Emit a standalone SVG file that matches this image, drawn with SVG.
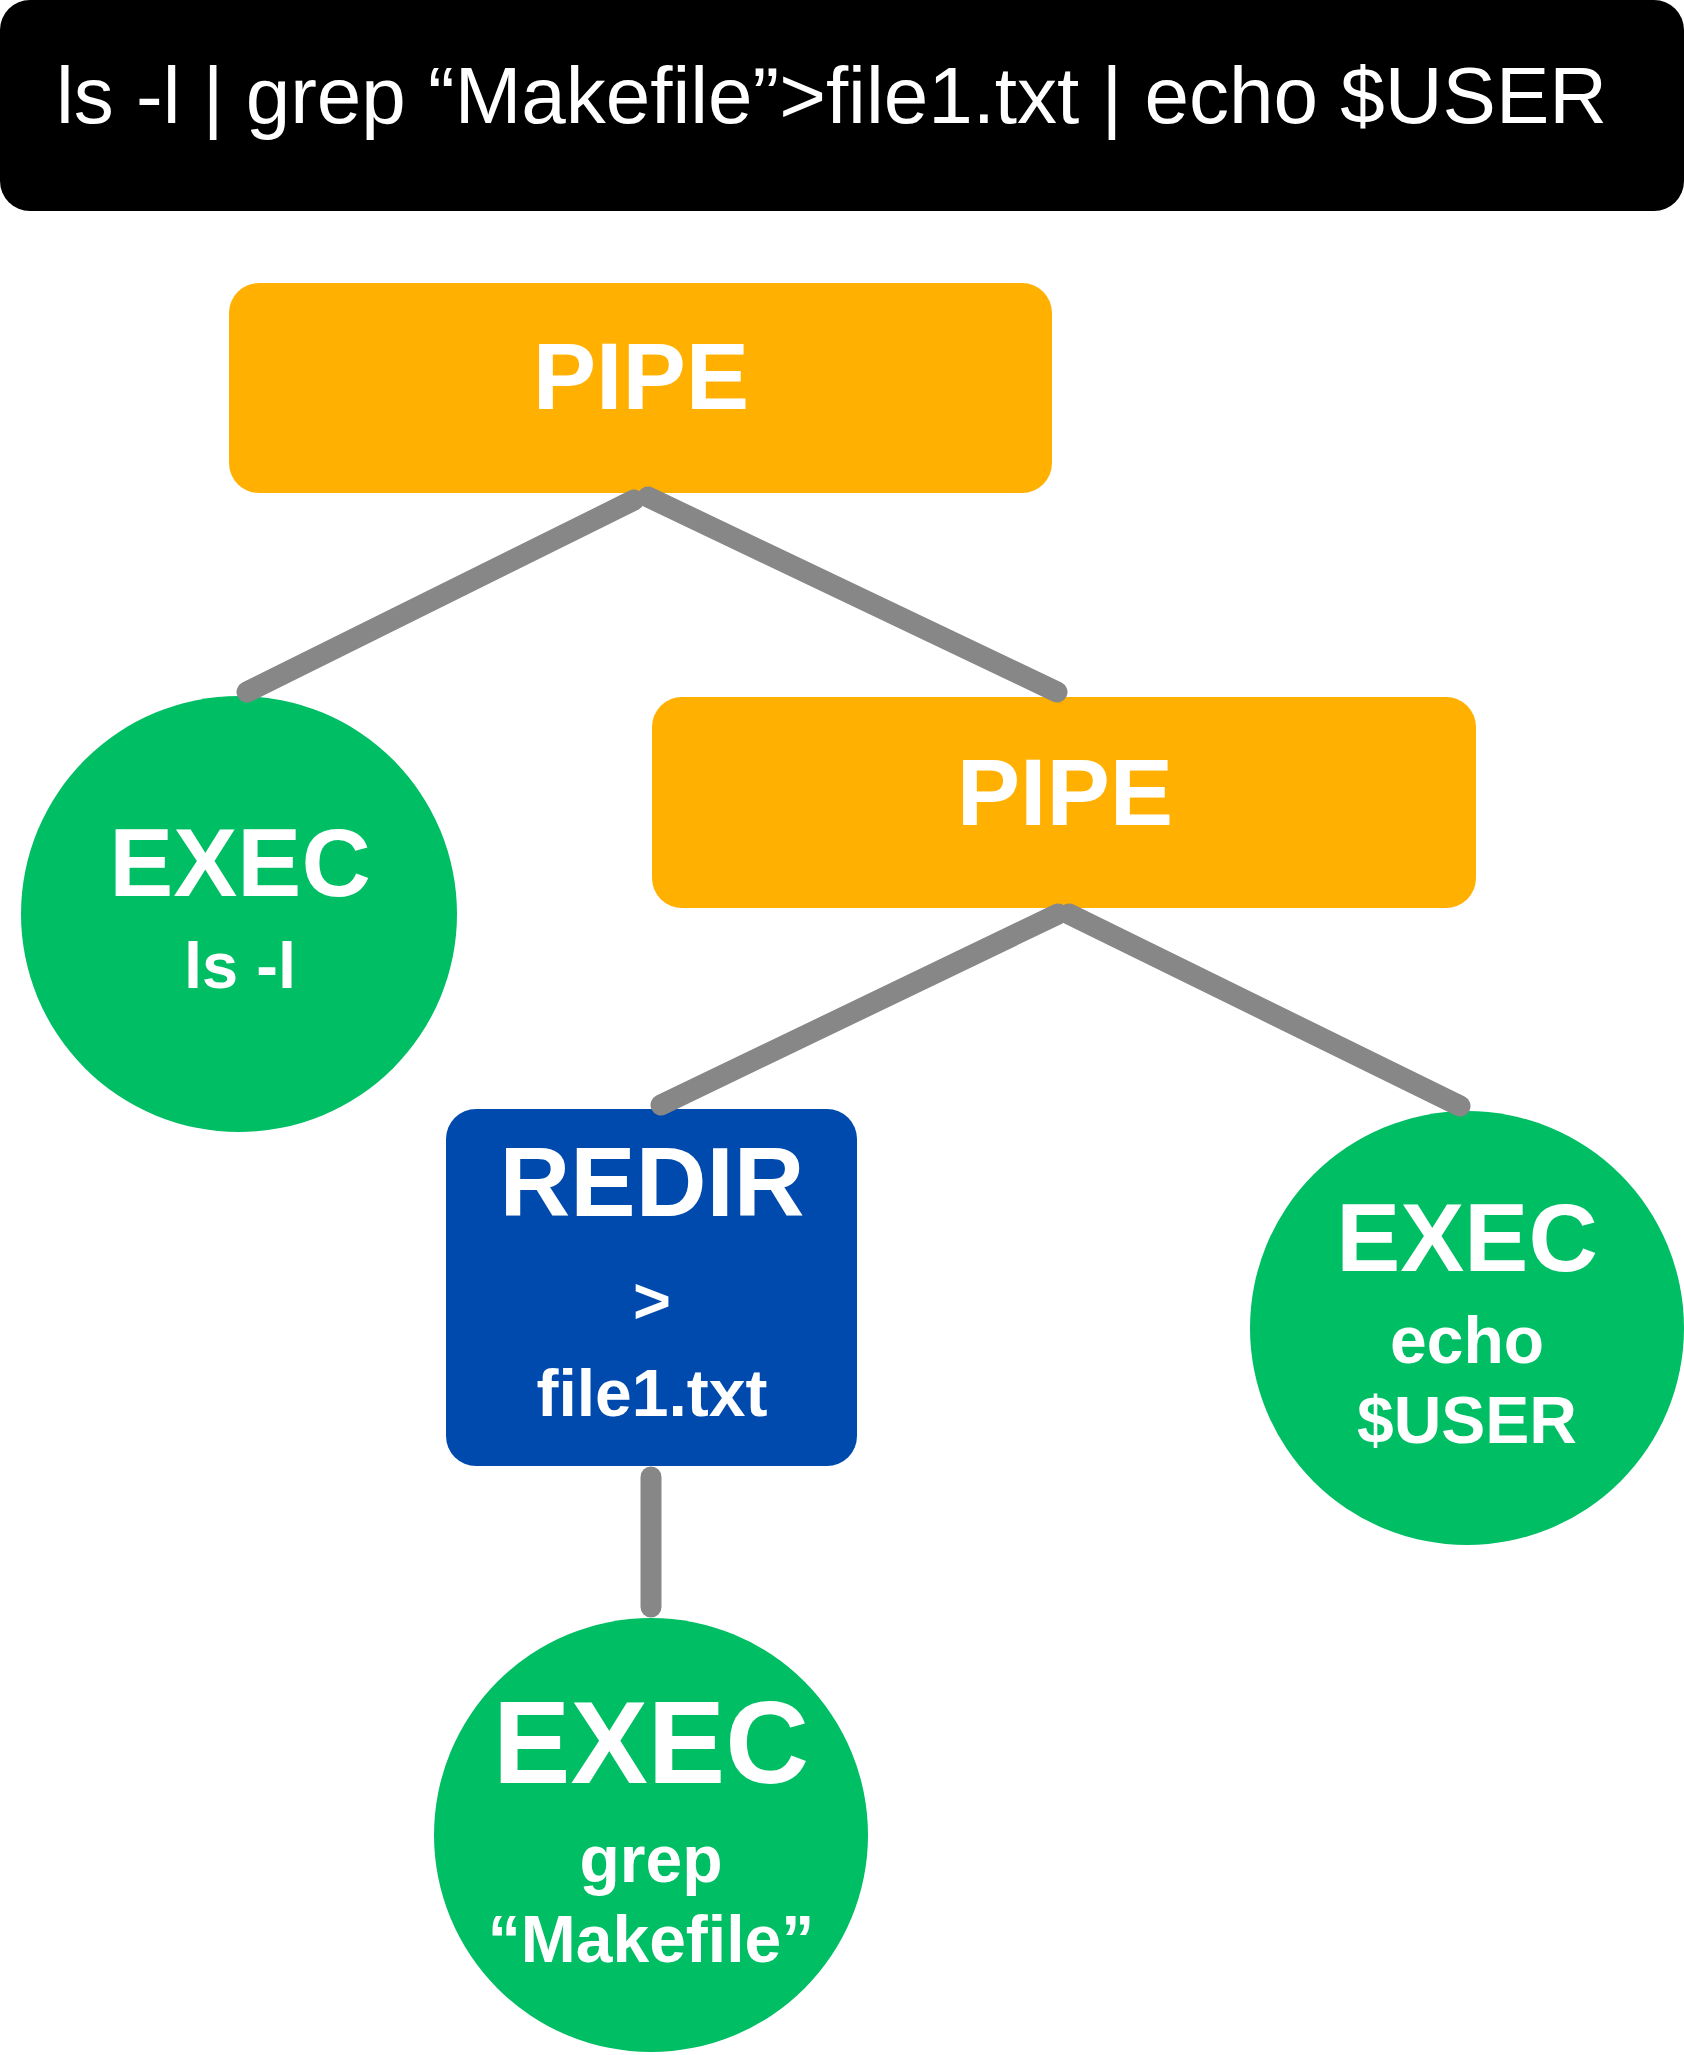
<svg xmlns="http://www.w3.org/2000/svg" width="1684" height="2055" viewBox="0 0 1684 2055">
<style>
.t{fill:#fff;font-family:"Liberation Sans",Arial,sans-serif;text-anchor:middle;font-weight:bold}
.pipe{fill:#FFB000}
.exec{fill:#00BE64}
.redir{fill:#004AAD}
.c{stroke:#878787;stroke-width:21;stroke-linecap:round;fill:none}
</style>
<rect width="1684" height="2055" fill="#fff"/>
<g id="title">
<rect x="0" y="0" width="1684" height="211" rx="30" fill="#000"/>
<text x="56" y="123" font-family="Liberation Sans, Arial, sans-serif" font-size="80" fill="#fff">ls -l | grep “Makefile”&gt;file1.txt | echo $USER</text>
</g>
<g id="pipe1">
<rect class="pipe" x="229" y="283" width="823" height="210" rx="30"/>
<text class="t" x="641" y="409" font-size="95">PIPE</text>
</g>
<g id="exec-ls">
<circle class="exec" cx="239" cy="914" r="218"/>
<text class="t" x="240" y="896" font-size="96">EXEC</text>
<text class="t" x="240" y="988" font-size="65">ls -l</text>
</g>
<g id="pipe2">
<rect class="pipe" x="652" y="697" width="824" height="211" rx="30"/>
<text class="t" x="1065" y="825" font-size="95">PIPE</text>
</g>
<g id="redir">
<rect class="redir" x="446" y="1109" width="411" height="357" rx="30"/>
<text class="t" x="652" y="1216" font-size="98">REDIR</text>
<text class="t" x="652" y="1323" font-size="65">&gt;</text>
<text class="t" x="652" y="1416" font-size="66">file1.txt</text>
</g>
<g id="exec-echo">
<circle class="exec" cx="1467" cy="1328" r="217"/>
<text class="t" x="1467" y="1271" font-size="96">EXEC</text>
<text class="t" x="1467" y="1363" font-size="66">echo</text>
<text class="t" x="1467" y="1443" font-size="66">$USER</text>
</g>
<g id="exec-grep">
<circle class="exec" cx="651" cy="1835" r="217"/>
<text class="t" x="651" y="1783" font-size="116">EXEC</text>
<text class="t" x="651" y="1882" font-size="66">grep</text>
<text class="t" x="651" y="1962" font-size="66">“Makefile”</text>
</g>
<g id="connectors">
<line class="c" x1="634" y1="500" x2="247" y2="692"/>
<line class="c" x1="648" y1="497" x2="1057" y2="692"/>
<line class="c" x1="1058" y1="914" x2="661" y2="1105"/>
<line class="c" x1="1069" y1="914" x2="1460" y2="1106"/>
<line class="c" x1="651" y1="1477" x2="651" y2="1607"/>
</g>
</svg>
